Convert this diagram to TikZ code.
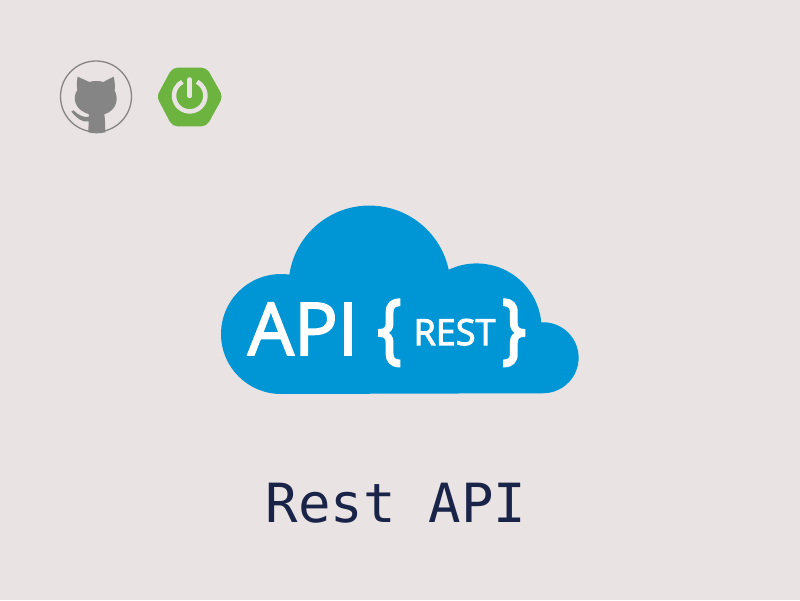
\documentclass[tikz,border=0pt]{standalone}
\usepackage{fontspec}
\setmainfont{Open Sans}
\newfontfamily\apifont[FakeBold=2.3]{Open Sans}
\newfontfamily\restfont[FakeBold=2.8]{Open Sans}
\newfontfamily\bracefont[FakeBold=3.5,FakeStretch=0.82]{Open Sans}
\newfontfamily\titlefont{DejaVu Sans Mono}
\definecolor{bgc}{HTML}{E9E3E3}
\definecolor{cloudc}{HTML}{0096D6}
\definecolor{springc}{HTML}{6DB33F}
\definecolor{grayc}{HTML}{858585}
\definecolor{titlec}{HTML}{1A2348}
\tikzset{
  cloudtext/.style={text=white,inner sep=0pt,anchor=base},
  zoomed/.style={shift={(40pt,550pt)},x=0.3333pt,y=-0.3333pt}
}
\begin{document}
\begin{tikzpicture}[x=1pt,y=1pt]
\useasboundingbox (0,0) rectangle (800,600);
\fill[bgc] (0,0) rectangle (800,600);
% GitHub icon
\draw[grayc,line width=1.3pt] (96,503.5) circle (35.5);
\begin{scope}[zoomed]
\fill[grayc] (113,80) -- (148,96) .. controls (160,92) and (178,92) .. (190,96) -- (221,80)
  .. controls (225,95) and (225,110) .. (224,122)
  .. controls (236,145) and (232,180) .. (193,193)
  .. controls (196,210) and (195,230) .. (196,247)
  .. controls (180,251) and (160,251) .. (145,247) -- (146,214)
  .. controls (125,218) and (112,205) .. (94,185) -- (100,181)
  .. controls (115,195) and (130,203) .. (146,201) -- (147,193)
  .. controls (105,180) and (95,145) .. (112,120)
  .. controls (110,105) and (110,95) .. (113,80) -- cycle;
\fill[springc,rounded corners=5pt] (350,140) -- (397,53) -- (500,53) -- (549,140) -- (500,229) -- (397,229) -- cycle;
\end{scope}
% Spring power symbol
\draw[bgc,line width=4.5pt] (189.7,504.3) ++(62:15.7) arc[start angle=62,end angle=-242,radius=15.7];
\draw[bgc,line width=4.5pt,line cap=round] (189.7,520.5) -- (189.7,504);
% Cloud
\fill[cloudc] (281,206)
  arc[start angle=270,end angle=82,radius=60]
  arc[start angle=171.5,end angle=12,radius=81]
  arc[start angle=115.4,end angle=5.4,radius=65]
  arc[start angle=93,end angle=-90,radius=35.5]
  -- cycle;
\node[cloudtext,font=\apifont\fontsize{73}{73}\selectfont] (api) at (303,245) {API};
\node[cloudtext,font=\restfont\fontsize{36}{36}\selectfont] (rest) at (454.5,255) {REST};
\node[cloudtext,font=\bracefont\fontsize{76}{76}\selectfont] (lb) at (389.5,246) {\{};
\node[cloudtext,font=\bracefont\fontsize{76}{76}\selectfont] (rb) at (514,246) {\}};
% Title
\node[text=titlec,inner sep=0pt,anchor=base,font=\titlefont\fontsize{54}{54}\selectfont] (title) at (396,78) {Rest API};
\end{tikzpicture}
\end{document}
